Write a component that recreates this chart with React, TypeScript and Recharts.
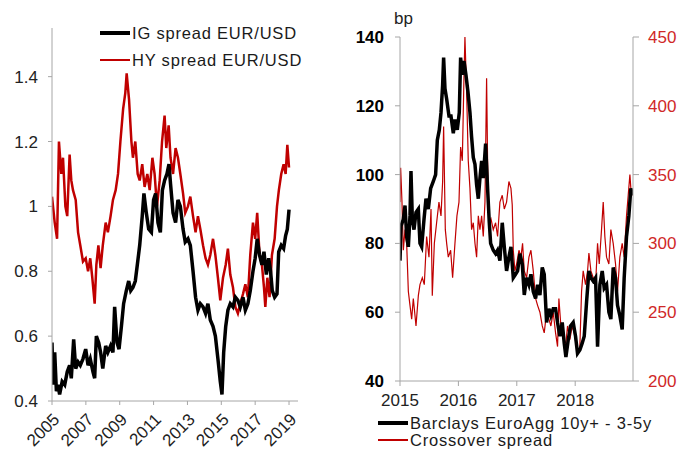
import React from "react";
import { LineChart, XAxis, YAxis, Line } from "recharts";

// left panel: decimal year, value
const igSpread: [number, number][] = [
  [2005.0, 0.58], [2005.06, 0.45], [2005.16, 0.55], [2005.26, 0.43], [2005.35, 0.45], [2005.45, 0.42],
  [2005.6, 0.46], [2005.75, 0.45], [2005.9, 0.49], [2006.04, 0.51], [2006.14, 0.47], [2006.28, 0.59],
  [2006.4, 0.5], [2006.54, 0.52], [2006.67, 0.51], [2006.83, 0.53], [2006.99, 0.56], [2007.13, 0.51],
  [2007.26, 0.53], [2007.42, 0.49], [2007.52, 0.47], [2007.62, 0.6], [2007.76, 0.58], [2007.87, 0.55],
  [2008.0, 0.5], [2008.17, 0.57], [2008.3, 0.55], [2008.46, 0.57], [2008.6, 0.55], [2008.7, 0.69],
  [2008.84, 0.58], [2008.96, 0.56], [2009.1, 0.63], [2009.23, 0.7], [2009.39, 0.74], [2009.53, 0.77],
  [2009.65, 0.74], [2009.78, 0.75], [2009.92, 0.77], [2010.04, 0.82], [2010.18, 0.88], [2010.33, 0.97],
  [2010.43, 1.04], [2010.57, 0.98], [2010.71, 0.93], [2010.87, 0.92], [2011.0, 1.02], [2011.12, 1.04],
  [2011.26, 0.95], [2011.4, 0.92], [2011.52, 1.05], [2011.65, 1.08], [2011.79, 1.1], [2011.91, 1.13],
  [2012.0, 1.07], [2012.15, 0.98], [2012.3, 0.95], [2012.44, 1.02], [2012.58, 1.0], [2012.74, 0.93],
  [2012.87, 0.89], [2013.03, 0.9], [2013.17, 0.88], [2013.33, 0.8], [2013.48, 0.72], [2013.62, 0.68],
  [2013.76, 0.7], [2013.92, 0.69], [2014.07, 0.67], [2014.21, 0.7], [2014.35, 0.65], [2014.51, 0.63],
  [2014.65, 0.6], [2014.8, 0.53], [2014.94, 0.46], [2015.04, 0.42], [2015.14, 0.55], [2015.26, 0.63],
  [2015.39, 0.68], [2015.53, 0.7], [2015.69, 0.69], [2015.83, 0.72], [2015.98, 0.71], [2016.12, 0.69],
  [2016.28, 0.72], [2016.42, 0.68], [2016.57, 0.7], [2016.71, 0.74], [2016.87, 0.8], [2017.0, 0.84],
  [2017.12, 0.9], [2017.26, 0.85], [2017.4, 0.82], [2017.52, 0.86], [2017.66, 0.79], [2017.8, 0.84],
  [2017.91, 0.8], [2018.01, 0.74], [2018.15, 0.72], [2018.29, 0.73], [2018.39, 0.86], [2018.54, 0.88],
  [2018.68, 0.87], [2018.8, 0.91], [2018.9, 0.93], [2019.0, 0.99],
];

const hySpread: [number, number][] = [
  [2005.0, 1.03], [2005.16, 0.95], [2005.3, 0.9], [2005.41, 1.2], [2005.55, 1.1], [2005.65, 1.15],
  [2005.79, 1.0], [2005.9, 0.97], [2006.04, 1.16], [2006.14, 1.08], [2006.24, 1.05], [2006.4, 1.02],
  [2006.54, 0.92], [2006.67, 0.88], [2006.83, 0.83], [2006.99, 0.84], [2007.13, 0.8], [2007.26, 0.84],
  [2007.38, 0.78], [2007.52, 0.7], [2007.62, 0.82], [2007.74, 0.88], [2007.87, 0.81], [2008.0, 0.88],
  [2008.17, 0.95], [2008.3, 0.92], [2008.46, 0.97], [2008.6, 1.02], [2008.76, 1.05], [2008.9, 1.1],
  [2009.04, 1.2], [2009.2, 1.3], [2009.33, 1.35], [2009.41, 1.41], [2009.55, 1.33], [2009.69, 1.2],
  [2009.78, 1.15], [2009.92, 1.2], [2010.06, 1.1], [2010.18, 1.08], [2010.33, 1.13], [2010.47, 1.06],
  [2010.63, 1.1], [2010.77, 1.05], [2010.93, 1.15], [2011.06, 1.1], [2011.2, 1.0], [2011.36, 1.08],
  [2011.5, 1.2], [2011.65, 1.28], [2011.75, 1.18], [2011.89, 1.25], [2012.0, 1.15], [2012.15, 1.1],
  [2012.3, 1.18], [2012.44, 1.15], [2012.58, 1.1], [2012.74, 1.04], [2012.87, 0.98], [2013.03, 1.0],
  [2013.17, 1.03], [2013.33, 0.97], [2013.48, 0.92], [2013.62, 0.97], [2013.76, 0.93], [2013.92, 0.88],
  [2014.07, 0.84], [2014.21, 0.82], [2014.35, 0.85], [2014.51, 0.9], [2014.65, 0.85], [2014.8, 0.78],
  [2014.94, 0.71], [2015.1, 0.78], [2015.26, 0.82], [2015.39, 0.87], [2015.53, 0.79], [2015.69, 0.75],
  [2015.83, 0.69], [2015.98, 0.67], [2016.12, 0.7], [2016.28, 0.73], [2016.42, 0.76], [2016.57, 0.72],
  [2016.71, 0.85], [2016.87, 0.95], [2017.0, 0.9], [2017.12, 0.98], [2017.26, 0.85], [2017.4, 0.82],
  [2017.52, 0.75], [2017.6, 0.69], [2017.72, 0.78], [2017.85, 0.72], [2017.99, 0.85], [2018.15, 0.9],
  [2018.29, 1.0], [2018.4, 1.05], [2018.54, 1.1], [2018.68, 1.13], [2018.8, 1.1], [2018.9, 1.19],
  [2019.0, 1.12],
];

// right panel: decimal year, bp
const euroAgg: [number, number][] = [
  [2015.0, 75], [2015.017, 85], [2015.057, 87], [2015.086, 91], [2015.114, 82], [2015.143, 79],
  [2015.171, 88], [2015.188, 101], [2015.211, 87], [2015.24, 84], [2015.274, 89], [2015.314, 90],
  [2015.342, 80], [2015.371, 79], [2015.411, 87], [2015.445, 93], [2015.485, 90], [2015.525, 96],
  [2015.57, 98], [2015.61, 100], [2015.639, 110], [2015.673, 113], [2015.702, 118], [2015.73, 126],
  [2015.747, 134], [2015.77, 125], [2015.799, 122], [2015.839, 117], [2015.873, 117], [2015.913, 112],
  [2015.941, 116], [2015.981, 113], [2016.015, 118], [2016.038, 134], [2016.067, 129], [2016.095, 133],
  [2016.129, 129], [2016.164, 124], [2016.198, 118], [2016.226, 111], [2016.255, 105], [2016.284, 103],
  [2016.312, 97], [2016.341, 93], [2016.369, 99], [2016.398, 104], [2016.426, 99], [2016.466, 109],
  [2016.5, 96], [2016.529, 86], [2016.552, 80], [2016.597, 78], [2016.637, 77], [2016.671, 78],
  [2016.711, 75], [2016.751, 86], [2016.786, 79], [2016.825, 72], [2016.865, 76], [2016.9, 79],
  [2016.94, 70], [2016.979, 71], [2017.014, 72], [2017.054, 77], [2017.094, 74], [2017.128, 65],
  [2017.168, 70], [2017.208, 68], [2017.242, 71], [2017.282, 66], [2017.322, 64], [2017.356, 68],
  [2017.396, 65], [2017.436, 73], [2017.47, 71], [2017.51, 57], [2017.55, 61], [2017.584, 59],
  [2017.624, 61], [2017.664, 61], [2017.698, 57], [2017.738, 53], [2017.778, 57], [2017.812, 51],
  [2017.841, 47], [2017.881, 52], [2017.92, 56], [2017.966, 57], [2018.006, 53], [2018.04, 48],
  [2018.08, 49], [2018.12, 51], [2018.155, 53], [2018.195, 63], [2018.235, 72], [2018.269, 70],
  [2018.309, 69], [2018.349, 70], [2018.383, 50], [2018.423, 68], [2018.463, 72], [2018.497, 67],
  [2018.537, 68], [2018.577, 60], [2018.611, 58], [2018.651, 73], [2018.691, 70], [2018.725, 62],
  [2018.765, 59], [2018.805, 55], [2018.839, 70], [2018.879, 82], [2018.919, 88], [2018.953, 96],
  [2018.982, 94],
];

const crossover: [number, number][] = [
  [2015.0, 330], [2015.011, 355], [2015.034, 330], [2015.057, 295], [2015.086, 310], [2015.114, 300],
  [2015.143, 265], [2015.171, 255], [2015.2, 245], [2015.228, 260], [2015.274, 240], [2015.314, 262],
  [2015.342, 270], [2015.382, 275], [2015.416, 270], [2015.456, 305], [2015.496, 290], [2015.531, 325],
  [2015.553, 262], [2015.588, 300], [2015.627, 315], [2015.667, 330], [2015.702, 320], [2015.73, 345],
  [2015.747, 385], [2015.776, 310], [2015.799, 300], [2015.827, 290], [2015.867, 295], [2015.901, 275],
  [2015.941, 300], [2015.975, 320], [2016.01, 330], [2016.038, 370], [2016.067, 360], [2016.095, 420],
  [2016.112, 450], [2016.141, 410], [2016.169, 360], [2016.198, 340], [2016.226, 310], [2016.255, 315],
  [2016.284, 300], [2016.312, 290], [2016.341, 320], [2016.369, 310], [2016.398, 320], [2016.426, 305],
  [2016.455, 330], [2016.483, 420], [2016.5, 360], [2016.523, 315], [2016.557, 318], [2016.597, 310],
  [2016.637, 315], [2016.671, 305], [2016.711, 330], [2016.751, 335], [2016.786, 325], [2016.825, 330],
  [2016.865, 345], [2016.9, 340], [2016.922, 328], [2016.94, 295], [2016.968, 280], [2016.997, 285],
  [2017.037, 295], [2017.071, 290], [2017.099, 300], [2017.128, 280], [2017.168, 275], [2017.208, 290],
  [2017.242, 295], [2017.282, 280], [2017.322, 260], [2017.356, 255], [2017.396, 250], [2017.436, 240],
  [2017.47, 235], [2017.51, 250], [2017.55, 245], [2017.584, 240], [2017.624, 250], [2017.664, 235],
  [2017.698, 225], [2017.721, 260], [2017.755, 240], [2017.795, 235], [2017.835, 225], [2017.869, 240],
  [2017.909, 230], [2017.949, 240], [2017.983, 235], [2018.023, 225], [2018.052, 220], [2018.08, 225],
  [2018.109, 265], [2018.137, 280], [2018.177, 270], [2018.212, 280], [2018.235, 293], [2018.269, 280],
  [2018.309, 275], [2018.349, 270], [2018.383, 300], [2018.412, 285], [2018.451, 310], [2018.48, 330],
  [2018.508, 305], [2018.537, 290], [2018.577, 285], [2018.611, 310], [2018.651, 300], [2018.691, 285],
  [2018.725, 265], [2018.765, 290], [2018.805, 300], [2018.839, 290], [2018.879, 320], [2018.908, 335],
  [2018.937, 350], [2018.953, 340], [2018.982, 335],
];

const leftYearTicks = [2005, 2007, 2009, 2011, 2013, 2015, 2017, 2019];
const leftValueTicks = [0.4, 0.6, 0.8, 1, 1.2, 1.4];
const rightYearTicks = [2015, 2016, 2017, 2018];
const bpTicks = [40, 60, 80, 100, 120, 140];
const crossoverTicks = [200, 250, 300, 350, 400, 450];

const toRows = (pts: [number, number][]) => pts.map(([t, v]) => ({ t, v }));

const FONT = "'Liberation Sans', Arial, sans-serif";
const AXIS = "#a6a6a6";
const RED = "#c00000";

function LegendRow(props: { x: number; y: number; color: string; thick: number; label: string }) {
  return (
    <div style={{ position: "absolute", left: props.x, top: props.y - 10, height: 20, display: "flex", alignItems: "center", whiteSpace: "nowrap" }}>
      <div style={{ width: 30, height: props.thick, background: props.color, marginRight: 2 }} />
      <span style={{ fontSize: 16.5, letterSpacing: 0.8, color: "#1a1a1a" }}>{props.label}</span>
    </div>
  );
}

export default function App() {
  const tickLeft = { fontSize: 17, fill: "#222", fontFamily: FONT };
  return (
    <div style={{ position: "absolute", left: 0, top: 0, width: 678, height: 450, overflow: "hidden", background: "#fff", fontFamily: FONT }}>
      <div style={{ position: "absolute", left: 0, top: 0 }}>
        <LineChart width={340} height={450} margin={{ top: 28, right: 42, bottom: 9, left: 0 }}>
          <XAxis type="number" dataKey="t" domain={[2005, 2019.53]} ticks={leftYearTicks} allowDataOverflow
            angle={-45} textAnchor="end" height={40} tickSize={4} tickMargin={7}
            stroke={AXIS} tick={tickLeft} interval={0} />
          <YAxis type="number" domain={[0.4, 1.55]} ticks={leftValueTicks} width={52} tickSize={4} tickMargin={10}
            stroke={AXIS} tick={tickLeft} allowDataOverflow />
          <Line data={toRows(hySpread)} dataKey="v" type="linear" stroke={RED} strokeWidth={2.5} dot={false} isAnimationActive={false} />
          <Line data={toRows(igSpread)} dataKey="v" type="linear" stroke="#000" strokeWidth={3.5} dot={false} isAnimationActive={false} />
        </LineChart>
      </div>
      <div style={{ position: "absolute", left: 340, top: 0 }}>
        <LineChart width={338} height={450} margin={{ top: 37, right: 0, bottom: 39, left: 0 }}>
          <XAxis type="number" dataKey="t" domain={[2015, 2018.99]} ticks={rightYearTicks} allowDataOverflow
            height={30} tickSize={5} tickMargin={8} stroke={AXIS} tick={tickLeft} interval={0} />
          <YAxis yAxisId="bp" type="number" domain={[40, 140]} ticks={bpTicks} width={60} tickSize={5} tickMargin={11}
            stroke={AXIS} tick={{ ...tickLeft, fill: "#000", fontWeight: "bold" }} />
          <YAxis yAxisId="xo" orientation="right" type="number" domain={[200, 450]} ticks={crossoverTicks} width={45}
            tickSize={6} tickMargin={9} stroke={AXIS} tick={{ ...tickLeft, fill: "#d02828" }} />
          <Line yAxisId="xo" data={toRows(crossover)} dataKey="v" type="linear" stroke={RED} strokeWidth={1.2} dot={false} isAnimationActive={false} />
          <Line yAxisId="bp" data={toRows(euroAgg)} dataKey="v" type="linear" stroke="#000" strokeWidth={3.5} dot={false} isAnimationActive={false} />
        </LineChart>
      </div>
      <div style={{ position: "absolute", left: 394, top: 9, fontSize: 17, color: "#222" }}>bp</div>
      <LegendRow x={100} y={33} color="#000" thick={3.5} label="IG spread EUR/USD" />
      <LegendRow x={100} y={60} color={RED} thick={2} label="HY spread EUR/USD" />
      <LegendRow x={378} y={423} color="#000" thick={3.5} label="Barclays EuroAgg 10y+ - 3-5y" />
      <LegendRow x={378} y={440} color={RED} thick={1.5} label="Crossover spread" />
    </div>
  );
}
